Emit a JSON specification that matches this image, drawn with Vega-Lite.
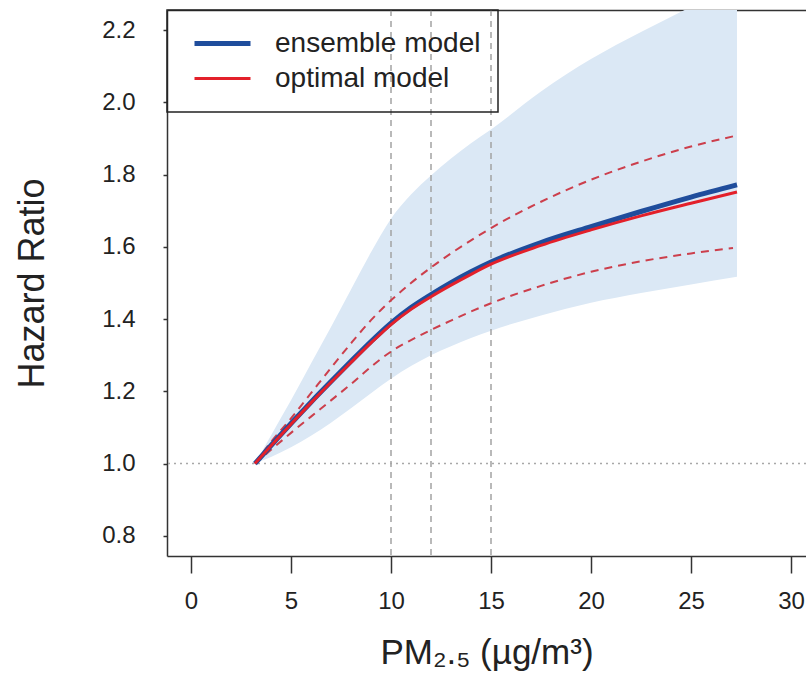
{
  "$schema": "https://vega.github.io/schema/vega-lite/v6.json",
  "width": 639,
  "height": 546,
  "autosize": {"type": "none"},
  "padding": {"left": 167, "top": 10, "right": 0, "bottom": 136},
  "background": "white",
  "config": {"view": {"stroke": null}, "font": "Liberation Sans", "axis": {"grid": false}},
  "datasets": {
    "band": [
      {"pm": 3.2, "lo": 1.0, "hi": 1.0},
      {"pm": 4, "lo": 1.018, "hi": 1.078},
      {"pm": 5, "lo": 1.045, "hi": 1.175},
      {"pm": 6, "lo": 1.077, "hi": 1.277},
      {"pm": 7, "lo": 1.113, "hi": 1.378},
      {"pm": 8, "lo": 1.153, "hi": 1.482},
      {"pm": 9, "lo": 1.195, "hi": 1.585},
      {"pm": 10, "lo": 1.235, "hi": 1.678},
      {"pm": 11, "lo": 1.27, "hi": 1.745},
      {"pm": 12, "lo": 1.3, "hi": 1.798},
      {"pm": 13, "lo": 1.325, "hi": 1.845},
      {"pm": 14, "lo": 1.348, "hi": 1.887},
      {"pm": 15, "lo": 1.368, "hi": 1.925},
      {"pm": 17.5, "lo": 1.41, "hi": 2.03},
      {"pm": 20, "lo": 1.445, "hi": 2.12},
      {"pm": 22.5, "lo": 1.472, "hi": 2.195},
      {"pm": 25, "lo": 1.496, "hi": 2.265},
      {"pm": 27.3, "lo": 1.517, "hi": 2.33}
    ],
    "ci": [
      {"pm": 3.2, "bound": "upper", "hr": 1.0},
      {"pm": 4, "bound": "upper", "hr": 1.06},
      {"pm": 5, "bound": "upper", "hr": 1.125},
      {"pm": 6, "bound": "upper", "hr": 1.195},
      {"pm": 7, "bound": "upper", "hr": 1.265},
      {"pm": 8, "bound": "upper", "hr": 1.333},
      {"pm": 9, "bound": "upper", "hr": 1.397},
      {"pm": 10, "bound": "upper", "hr": 1.452},
      {"pm": 11, "bound": "upper", "hr": 1.5},
      {"pm": 12, "bound": "upper", "hr": 1.543},
      {"pm": 13, "bound": "upper", "hr": 1.582},
      {"pm": 14, "bound": "upper", "hr": 1.618},
      {"pm": 15, "bound": "upper", "hr": 1.652},
      {"pm": 17.5, "bound": "upper", "hr": 1.725},
      {"pm": 20, "bound": "upper", "hr": 1.786},
      {"pm": 22.5, "bound": "upper", "hr": 1.836},
      {"pm": 25, "bound": "upper", "hr": 1.878},
      {"pm": 27.1, "bound": "upper", "hr": 1.906},
      {"pm": 3.2, "bound": "lower", "hr": 1.0},
      {"pm": 4, "bound": "lower", "hr": 1.038},
      {"pm": 5, "bound": "lower", "hr": 1.085},
      {"pm": 6, "bound": "lower", "hr": 1.13},
      {"pm": 7, "bound": "lower", "hr": 1.175},
      {"pm": 8, "bound": "lower", "hr": 1.22},
      {"pm": 9, "bound": "lower", "hr": 1.268},
      {"pm": 10, "bound": "lower", "hr": 1.31},
      {"pm": 11, "bound": "lower", "hr": 1.342},
      {"pm": 12, "bound": "lower", "hr": 1.37},
      {"pm": 13, "bound": "lower", "hr": 1.396},
      {"pm": 14, "bound": "lower", "hr": 1.421},
      {"pm": 15, "bound": "lower", "hr": 1.444},
      {"pm": 17.5, "bound": "lower", "hr": 1.492},
      {"pm": 20, "bound": "lower", "hr": 1.531},
      {"pm": 22.5, "bound": "lower", "hr": 1.56},
      {"pm": 25, "bound": "lower", "hr": 1.582},
      {"pm": 27.1, "bound": "lower", "hr": 1.597}
    ],
    "curves": [
      {"pm": 3.2, "model": "ensemble model", "hr": 1.0},
      {"pm": 4, "model": "ensemble model", "hr": 1.05},
      {"pm": 5, "model": "ensemble model", "hr": 1.111},
      {"pm": 6, "model": "ensemble model", "hr": 1.17},
      {"pm": 7, "model": "ensemble model", "hr": 1.227},
      {"pm": 8, "model": "ensemble model", "hr": 1.283},
      {"pm": 9, "model": "ensemble model", "hr": 1.338},
      {"pm": 10, "model": "ensemble model", "hr": 1.389},
      {"pm": 11, "model": "ensemble model", "hr": 1.432},
      {"pm": 12, "model": "ensemble model", "hr": 1.468},
      {"pm": 13, "model": "ensemble model", "hr": 1.501},
      {"pm": 14, "model": "ensemble model", "hr": 1.531},
      {"pm": 15, "model": "ensemble model", "hr": 1.558},
      {"pm": 17.5, "model": "ensemble model", "hr": 1.612},
      {"pm": 20, "model": "ensemble model", "hr": 1.656},
      {"pm": 22.5, "model": "ensemble model", "hr": 1.698},
      {"pm": 25, "model": "ensemble model", "hr": 1.738},
      {"pm": 27.3, "model": "ensemble model", "hr": 1.772},
      {"pm": 3.2, "model": "optimal model", "hr": 1.0},
      {"pm": 4, "model": "optimal model", "hr": 1.049},
      {"pm": 5, "model": "optimal model", "hr": 1.109},
      {"pm": 6, "model": "optimal model", "hr": 1.168},
      {"pm": 7, "model": "optimal model", "hr": 1.225},
      {"pm": 8, "model": "optimal model", "hr": 1.28},
      {"pm": 9, "model": "optimal model", "hr": 1.334},
      {"pm": 10, "model": "optimal model", "hr": 1.385},
      {"pm": 11, "model": "optimal model", "hr": 1.427},
      {"pm": 12, "model": "optimal model", "hr": 1.462},
      {"pm": 13, "model": "optimal model", "hr": 1.494},
      {"pm": 14, "model": "optimal model", "hr": 1.524},
      {"pm": 15, "model": "optimal model", "hr": 1.552},
      {"pm": 17.5, "model": "optimal model", "hr": 1.604},
      {"pm": 20, "model": "optimal model", "hr": 1.647},
      {"pm": 22.5, "model": "optimal model", "hr": 1.686},
      {"pm": 25, "model": "optimal model", "hr": 1.721},
      {"pm": 27.3, "model": "optimal model", "hr": 1.752}
    ],
    "refs": [{"pm": 10}, {"pm": 12}, {"pm": 15}],
    "one": [{"hr": 1.0}]
  },
  "layer": [
    {
      "data": {"name": "band"},
      "mark": {"type": "area", "color": "#dbe8f5", "opacity": 1, "clip": true, "interpolate": "monotone"},
      "encoding": {
        "x": {"field": "pm", "type": "quantitative",
          "scale": {"domain": [-1.2, 30.75], "nice": false, "zero": false},
          "axis": {"orient": "bottom", "values": [0, 5, 10, 15, 20, 25, 30], "tickSize": 17, "tickWidth": 1.5, "tickColor": "#333",
            "domainColor": "#333", "domainWidth": 1.5, "labelPadding": 16, "labelFontSize": 24, "labelColor": "#222", "labelFlush": false,
            "title": "PM₂.₅ (µg/m³)", "titleFontSize": 35, "titleFontWeight": "normal", "titleColor": "#222", "titlePadding": 22}},
        "y": {"field": "lo", "type": "quantitative", "title": "Hazard Ratio",
          "scale": {"domain": [0.744, 2.256], "nice": false, "zero": false},
          "axis": {"values": [0.8, 1.0, 1.2, 1.4, 1.6, 1.8, 2.0, 2.2], "format": ".1f", "tickSize": 4, "tickWidth": 1.5, "tickColor": "#333",
            "domainColor": "#333", "domainWidth": 1.5, "labelPadding": 28, "labelFontSize": 24, "labelColor": "#222", "labelFlush": false,
            "titleFontSize": 36, "titleFontWeight": "normal", "titleColor": "#222", "titlePadding": 50}},
        "y2": {"field": "hi"}
      }
    },
    {
      "data": {"name": "refs"},
      "mark": {"type": "rule", "color": "#a3a3a3", "strokeWidth": 1.5, "strokeDash": [6, 5]},
      "encoding": {
        "x": {"field": "pm", "type": "quantitative",
          "scale": {"domain": [-1.2, 30.75], "nice": false, "zero": false},
          "axis": {"orient": "top", "labels": false, "ticks": false, "title": null, "domain": true, "domainColor": "#333", "domainWidth": 1.5}}
      }
    },
    {
      "data": {"name": "one"},
      "mark": {"type": "rule", "color": "#a8a8a8", "strokeWidth": 1.5, "strokeDash": [2, 4]},
      "encoding": {
        "y": {"field": "hr", "type": "quantitative", "title": "Hazard Ratio",
          "scale": {"domain": [0.744, 2.256], "nice": false, "zero": false}}
      }
    },
    {
      "data": {"name": "ci"},
      "mark": {"type": "line", "color": "#cc3f4c", "strokeWidth": 2, "strokeDash": [8, 6], "clip": true, "interpolate": "monotone"},
      "encoding": {
        "x": {"field": "pm", "type": "quantitative", "axis": null,
          "scale": {"domain": [-1.2, 30.75], "nice": false, "zero": false}},
        "y": {"field": "hr", "type": "quantitative", "title": "Hazard Ratio",
          "scale": {"domain": [0.744, 2.256], "nice": false, "zero": false}},
        "detail": {"field": "bound"}
      }
    },
    {
      "data": {"name": "curves"},
      "mark": {"type": "line", "clip": true, "interpolate": "monotone"},
      "encoding": {
        "x": {"field": "pm", "type": "quantitative", "axis": null,
          "scale": {"domain": [-1.2, 30.75], "nice": false, "zero": false}},
        "y": {"field": "hr", "type": "quantitative", "title": "Hazard Ratio",
          "scale": {"domain": [0.744, 2.256], "nice": false, "zero": false}},
        "color": {"field": "model", "type": "nominal",
          "scale": {"domain": ["ensemble model", "optimal model"], "range": ["#1f4d9c", "#e3202a"]},
          "legend": {"title": null, "orient": "none", "legendX": 0, "legendY": 0, "padding": 17,
            "symbolType": "stroke", "symbolSize": 3136, "symbolStrokeWidth": 4, "symbolOffset": 8,
            "clipHeight": 33, "rowPadding": 2, "labelFontSize": 28, "labelColor": "#222", "labelOffset": 22, "labelLimit": 400,
            "strokeColor": "#222", "cornerRadius": 0,
            "encode": {
              "symbols": {"update": {"stroke": {"signal": "datum.value === 'ensemble model' ? '#1818cc' : '#e3141e'"}}},
              "legend": {"update": {"strokeWidth": {"value": 1.5}}}
            }}},
        "strokeWidth": {"field": "model", "type": "nominal",
          "scale": {"domain": ["ensemble model", "optimal model"], "range": [5, 3]}, "legend": null}
      }
    }
  ],
  "resolve": {"axis": {"x": "independent"}}
}
